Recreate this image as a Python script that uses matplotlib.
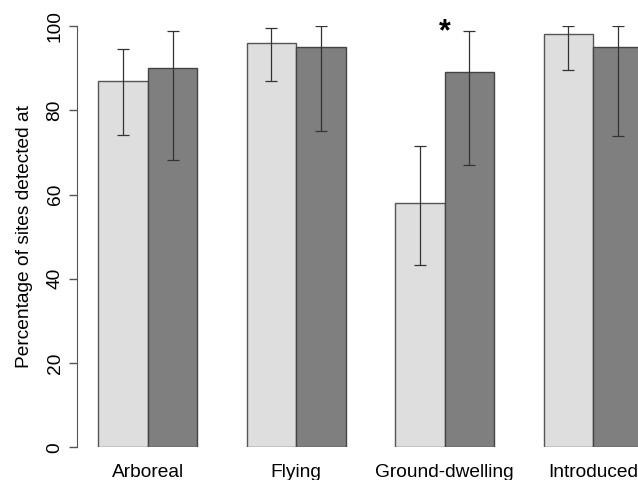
import numpy as np
import matplotlib
matplotlib.use('Agg')
from matplotlib import pyplot as plt

groups = ['Arboreal', 'Flying', 'Ground-dwelling', 'Introduced']
light_vals = [87, 96, 58, 98]
light_lo = [74.2, 86.9, 43.2, 89.6]
light_hi = [94.5, 99.5, 71.4, 100]
dark_vals = [90, 95, 89, 95]
dark_lo = [68.3, 75.1, 66.9, 74.0]
dark_hi = [98.7, 99.9, 98.7, 100]
yticks = [0, 20, 40, 60, 80, 100]

plt.rcParams['font.family'] = ['Liberation Sans', 'DejaVu Sans']

fig = plt.figure(figsize=(6.38, 4.8), dpi=100)
# axes placed to match the R plotting region
x0 = 76.7 / 638
ax = fig.add_axes([x0, 32.7 / 480, 1 - x0, 421.3 / 480])

idx = np.arange(len(groups)) * 3
xl = idx + 1.5
xd = idx + 2.5

ax.bar(xl, light_vals, width=1, color='#dedede', edgecolor='#555555', linewidth=1)
ax.bar(xd, dark_vals, width=1, color='#7f7f7f', edgecolor='#444444', linewidth=1)

lv = np.array(light_vals)
dv = np.array(dark_vals)
ax.errorbar(xl, lv, yerr=[lv - np.array(light_lo), np.array(light_hi) - lv],
            fmt='none', ecolor='#333333', elinewidth=0.9, capsize=4, capthick=0.9)
ax.errorbar(xd, dv, yerr=[dv - np.array(dark_lo), np.array(dark_hi) - dv],
            fmt='none', ecolor='#333333', elinewidth=0.9, capsize=4, capthick=0.9)

ax.text(idx[2] + 2, 96.6, '*', fontsize=22, fontweight='bold', ha='center',
        va='baseline', clip_on=False)

ax.set_xlim(0.5634, 0.5634 + 638 * (1 - x0) / 49.47)
ax.set_ylim(0, 100)
ax.set_yticks(yticks)
ax.set_yticklabels([str(t) for t in yticks], rotation=90, va='center', fontsize=13.8)
ax.set_xticks(idx + 2)
ax.set_xticklabels(groups, fontsize=13.8)
ax.tick_params(axis='x', length=0, pad=12)
ax.tick_params(axis='y', length=5.5, width=1, color='#555555', pad=4)
ax.set_ylabel('Percentage of sites detected at', fontsize=13.8, labelpad=10)

for s in ['top', 'right', 'bottom']:
    ax.spines[s].set_visible(False)
ax.spines['left'].set_bounds(0, 100)
ax.spines['left'].set_color('#555555')
ax.patch.set_alpha(0)

fig.savefig('out.png', dpi=100)
